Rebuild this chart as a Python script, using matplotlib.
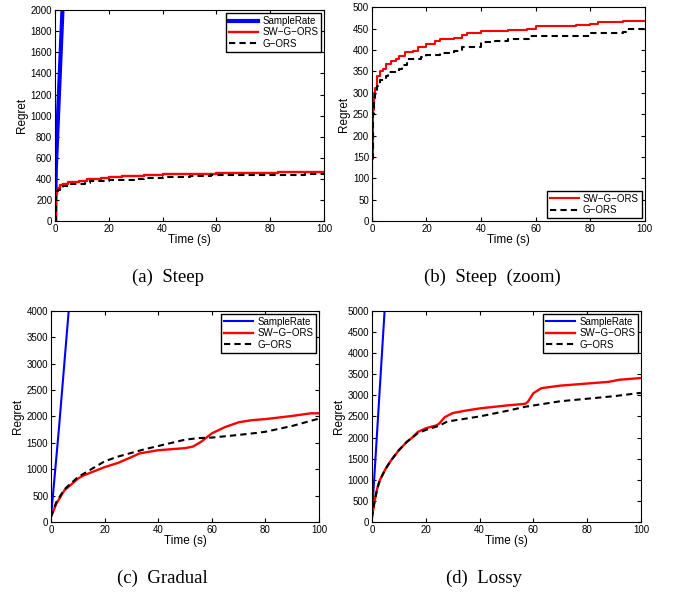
import matplotlib.pyplot as plt

plt.rcParams['font.family'] = ['Liberation Sans', 'DejaVu Sans']

# ---- steep scenario (a) and (b) ----
steep_t_sw = [0, 0.2, 0.4, 0.6, 1, 2, 3, 4, 5, 7, 9, 10, 12, 15, 17, 20, 23, 25, 30, 33, 35, 40,
              50, 57, 60, 75, 80, 83, 92, 100]
steep_sw = [0, 150, 260, 300, 312, 340, 350, 356, 368, 373, 378, 385, 395, 398, 407, 415, 420,
            425, 428, 435, 440, 445, 447, 450, 456, 458, 461, 465, 467, 468]
steep_t_g = [0, 0.2, 0.4, 0.6, 1, 2, 3, 5, 6, 10, 11, 13, 18, 20, 25, 30, 33, 40, 45, 50, 58,
             78, 80, 92, 93, 100]
steep_g = [0, 140, 250, 288, 298, 315, 330, 340, 348, 355, 365, 378, 383, 387, 392, 398, 408,
           418, 422, 425, 433, 433, 440, 441, 448, 452]
steep_t_sr = [0, 0.3, 2.9]
steep_sr = [0, 500, 2080]

# ---- gradual scenario (c) ----
grad_t = [0, 2, 5, 10, 12, 20, 25, 30, 33, 40, 50, 53, 56, 60, 65, 70, 75, 80, 90, 97, 100]
grad_sw = [100, 350, 600, 820, 880, 1040, 1120, 1230, 1300, 1360, 1400, 1430, 1520, 1680, 1800,
           1890, 1930, 1950, 2010, 2060, 2060]
grad_t_g = [0, 2, 5, 10, 15, 20, 25, 30, 35, 40, 50, 55, 60, 70, 77, 80, 90, 100]
grad_g = [100, 380, 620, 850, 1000, 1150, 1240, 1310, 1380, 1440, 1560, 1590, 1600, 1650, 1690,
          1710, 1820, 1960]
grad_t_sr = [0, 3, 7]
grad_sr = [100, 1800, 4250]

# ---- lossy scenario (d) ----
lossy_t = [0, 1, 2, 3, 5, 7, 10, 13, 15, 17, 20, 24, 25, 27, 30, 35, 40, 50, 57, 58, 60, 63, 70,
           80, 88, 92, 100]
lossy_sw = [100, 500, 800, 1000, 1250, 1450, 1700, 1900, 2000, 2130, 2220, 2290, 2330, 2480, 2580,
            2640, 2690, 2760, 2800, 2850, 3050, 3170, 3230, 3280, 3320, 3370, 3410]
lossy_t_g = [0, 1, 2, 3, 5, 7, 10, 13, 17, 20, 25, 28, 35, 40, 50, 57, 60, 70, 80, 90, 100]
lossy_g = [100, 500, 800, 1000, 1250, 1450, 1700, 1900, 2100, 2180, 2280, 2380, 2450, 2500, 2630,
           2730, 2760, 2860, 2920, 2980, 3060]
lossy_t_sr = [0, 5]
lossy_sr = [150, 5300]

fig = plt.figure(figsize=(6.75, 5.93), dpi=100)


def style(ax, ymax, ystep):
    ax.set_xlim(0, 100)
    ax.set_ylim(0, ymax)
    ax.set_xticks(range(0, 101, 20))
    ax.set_yticks(range(0, ymax + 1, ystep))
    ax.tick_params(direction='in', top=True, right=True, labelsize=7, length=3, pad=2)
    ax.set_xlabel('Time (s)', fontsize=8.5, labelpad=0)
    ax.set_ylabel('Regret', fontsize=8.5, labelpad=2)


def legend(ax, loc):
    ax.legend(loc=loc, fontsize=7, fancybox=False, edgecolor='black', framealpha=1,
              borderaxespad=0.3, handlelength=3, labelspacing=0.15, borderpad=0.3,
              handletextpad=0.4)


# (a)
ax = fig.add_axes([0.0815, 0.627, 0.3985, 0.356])
ax.plot(steep_t_sr, steep_sr, color='blue', lw=3, label='SampleRate')
ax.plot(steep_t_sw, steep_sw, color='red', lw=1.7, drawstyle='steps-post', label='SW\u2212G\u2212ORS')
ax.plot(steep_t_g, steep_g, color='black', lw=1.5, dashes=[3, 2], drawstyle='steps-post',
        label='G\u2212ORS')
style(ax, 2000, 200)
legend(ax, 'upper right')

# (b)
ax = fig.add_axes([0.551, 0.627, 0.404, 0.361])
ax.plot(steep_t_sw, steep_sw, color='red', lw=1.5, drawstyle='steps-post', label='SW\u2212G\u2212ORS')
ax.plot(steep_t_g, steep_g, color='black', lw=1.5, dashes=[3, 2], drawstyle='steps-post',
        label='G\u2212ORS')
style(ax, 500, 50)
legend(ax, 'lower right')

# (c)
ax = fig.add_axes([0.0756, 0.1197, 0.397, 0.356])
ax.plot(grad_t_sr, grad_sr, color='blue', lw=1.5, label='SampleRate')
ax.plot(grad_t, grad_sw, color='red', lw=1.7, label='SW\u2212G\u2212ORS')
ax.plot(grad_t_g, grad_g, color='black', lw=1.5, dashes=[3, 2], label='G\u2212ORS')
style(ax, 4000, 500)
legend(ax, 'upper right')

# (d)
ax = fig.add_axes([0.551, 0.1197, 0.3985, 0.356])
ax.plot(lossy_t_sr, lossy_sr, color='blue', lw=1.5, label='SampleRate')
ax.plot(lossy_t, lossy_sw, color='red', lw=1.7, label='SW\u2212G\u2212ORS')
ax.plot(lossy_t_g, lossy_g, color='black', lw=1.5, dashes=[3, 2], label='G\u2212ORS')
style(ax, 5000, 500)
legend(ax, 'upper right')

# captions
cap = dict(fontsize=13.5, family=['Liberation Serif', 'DejaVu Serif'], ha='center', va='center')
fig.text(0.249, 0.533, '(a)  Steep', **cap)
fig.text(0.729, 0.533, '(b)  Steep  (zoom)', **cap)
fig.text(0.240, 0.025, '(c)  Gradual', **cap)
fig.text(0.717, 0.025, '(d)  Lossy', **cap)

fig.savefig('out.png', dpi=100)
